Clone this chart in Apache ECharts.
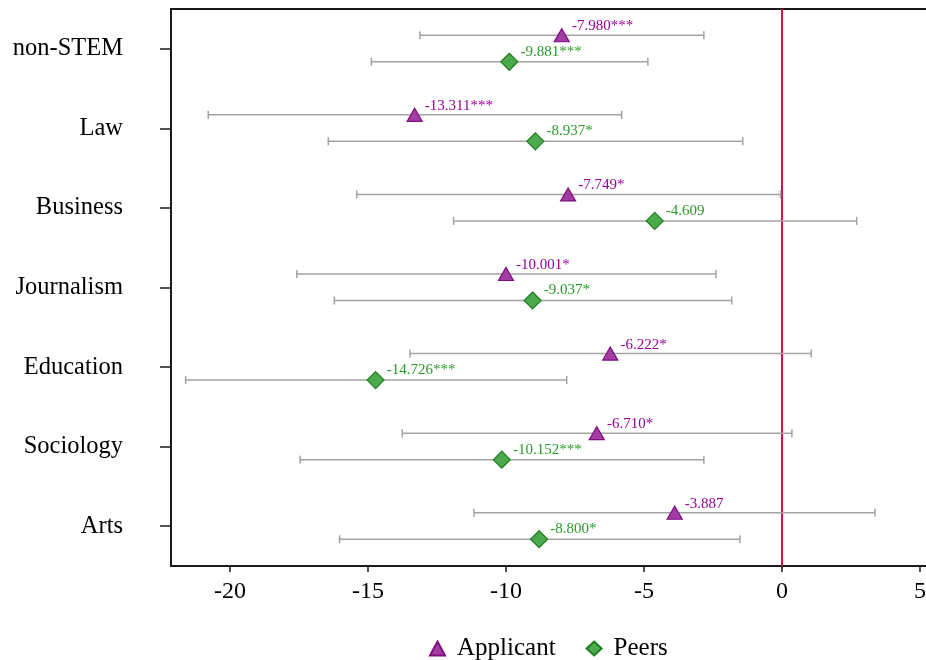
<!DOCTYPE html>
<html>
<head>
<meta charset="utf-8">
<script src="https://cdn.jsdelivr.net/npm/echarts@6/dist/echarts.min.js"></script>
<style>
  html, body { margin: 0; padding: 0; background: #fff; }
  #chart { width: 926px; height: 660px; }
</style>
</head>
<body>
<div id="chart"></div>
<script>
// Field categories, top to bottom
const categories = ['non-STEM', 'Law', 'Business', 'Journalism', 'Education', 'Sociology', 'Arts'];

// Applicant estimates, significance stars and confidence bounds
const applicantEst = [-7.980, -13.311, -7.749, -10.001, -6.222, -6.710, -3.887];
const applicantStars = ['***', '***', '*', '*', '*', '*', ''];
const applicantLow = [-13.12, -20.79, -15.41, -17.58, -13.48, -13.76, -11.16];
const applicantHigh = [-2.83, -5.81, -0.05, -2.39, 1.06, 0.36, 3.37];

// Peers estimates, significance stars and confidence bounds
const peersEst = [-9.881, -8.937, -4.609, -9.037, -14.726, -10.152, -8.800];
const peersStars = ['***', '*', '', '*', '***', '***', '*'];
const peersLow = [-14.88, -16.44, -11.90, -16.22, -21.61, -17.46, -16.03];
const peersHigh = [-4.86, -1.42, 2.71, -1.82, -7.80, -2.83, -1.52];

// Tick values on the x axis
const xTicks = [-20, -15, -10, -5, 0, 5];

const X_MIN = -22.14;
const X_MAX = 5.22;
const FONT = '"Liberation Serif", "Times New Roman", serif';
const APP_OFFSET = -13.5;   // pixel shift of the Applicant row within a band
const PEER_OFFSET = 13;     // pixel shift of the Peers row within a band
const BAR_COLOR = '#a3a3a3';
const FRAME = '#1a1a1a';

function errorBarSeries(low, high, offset) {
  return {
    type: 'custom',
    silent: true,
    z: 2,
    dimensions: ['low', 'high', 'cat'],
    data: low.map((l, i) => [l, high[i], i]),
    encode: { x: [0, 1], y: 2 },
    renderItem: function (params, api) {
      const a = api.coord([api.value(0), api.value(2)]);
      const b = api.coord([api.value(1), api.value(2)]);
      const y = a[1] + offset;
      const h = 4;
      const style = { stroke: BAR_COLOR, lineWidth: 1.5 };
      return {
        type: 'group',
        children: [
          { type: 'line', shape: { x1: a[0], y1: y, x2: b[0], y2: y }, style: style },
          { type: 'line', shape: { x1: a[0], y1: y - h, x2: a[0], y2: y + h }, style: style },
          { type: 'line', shape: { x1: b[0], y1: y - h, x2: b[0], y2: y + h }, style: style }
        ]
      };
    }
  };
}

function pointSeries(name, est, stars, symbol, size, offset, fill, stroke, textColor, labelOffset, extra) {
  return Object.assign({
    name: name,
    type: 'scatter',
    z: 5,
    symbol: symbol,
    symbolSize: size,
    symbolOffset: [0, offset],
    itemStyle: { color: fill, borderColor: stroke, borderWidth: 1.2, opacity: 1 },
    data: est.map((v, i) => [v, i]),
    label: {
      show: true,
      position: 'right',
      distance: 2,
      offset: labelOffset,
      fontFamily: FONT,
      fontSize: 15,
      color: textColor,
      formatter: p => est[p.dataIndex].toFixed(3) + stars[p.dataIndex]
    },
    emphasis: { disabled: true }
  }, extra || {});
}

const chart = echarts.init(document.getElementById('chart'), null, { renderer: 'canvas' });

chart.setOption({
  animation: false,
  backgroundColor: '#fff',
  grid: { left: 171, top: 9, right: 0, bottom: 94, show: false, containLabel: false, outerBoundsMode: 'none' },
  legend: {
    top: 631,
    left: 424,
    itemGap: 30,
    itemWidth: 15,
    itemHeight: 14,
    textStyle: { fontFamily: FONT, fontSize: 25, color: '#000', padding: [0, 0, 0, 7] },
    data: [
      { name: 'Applicant', icon: 'triangle' },
      { name: 'Peers', icon: 'diamond' }
    ]
  },
  xAxis: [
    {
      type: 'value',
      min: X_MIN,
      max: X_MAX,
      splitLine: { show: false },
      axisLine: { show: true, onZero: false, lineStyle: { color: FRAME, width: 2 } },
      axisTick: { show: true, length: 6, customValues: xTicks, lineStyle: { color: FRAME, width: 1.5 } },
      axisLabel: {
        customValues: xTicks,
        margin: 14,
        fontFamily: FONT,
        fontSize: 24,
        color: '#000'
      }
    },
    {
      // top edge of the plot frame
      type: 'value',
      position: 'top',
      min: X_MIN,
      max: X_MAX,
      splitLine: { show: false },
      axisLine: { show: true, onZero: false, lineStyle: { color: FRAME, width: 2 } },
      axisTick: { show: false },
      axisLabel: { show: false }
    }
  ],
  yAxis: {
    type: 'category',
    data: categories,
    inverse: true,
    splitLine: { show: false },
    axisLine: { show: true, onZero: false, lineStyle: { color: FRAME, width: 2 } },
    axisTick: { show: true, alignWithLabel: true, length: 11, lineStyle: { color: FRAME, width: 1.5 } },
    axisLabel: { margin: 48, fontFamily: FONT, fontSize: 24.5, color: '#000' }
  },
  series: [
    errorBarSeries(applicantLow, applicantHigh, APP_OFFSET),
    errorBarSeries(peersLow, peersHigh, PEER_OFFSET),
    pointSeries('Applicant', applicantEst, applicantStars, 'triangle', [15, 13], APP_OFFSET,
      '#a33ca3', '#7f0f7f', '#990099', [0, -9], {
        markLine: {
          silent: true,
          symbol: 'none',
          label: { show: false },
          lineStyle: { color: '#d5123c', width: 2, type: 'solid' },
          data: [{ xAxis: 0 }],
          z: 1
        }
      }),
    pointSeries('Peers', peersEst, peersStars, 'diamond', [17, 17], PEER_OFFSET,
      '#4caa4c', '#1f7d1f', '#2a9a2a', [0, -10])
  ]
});
</script>
</body>
</html>
